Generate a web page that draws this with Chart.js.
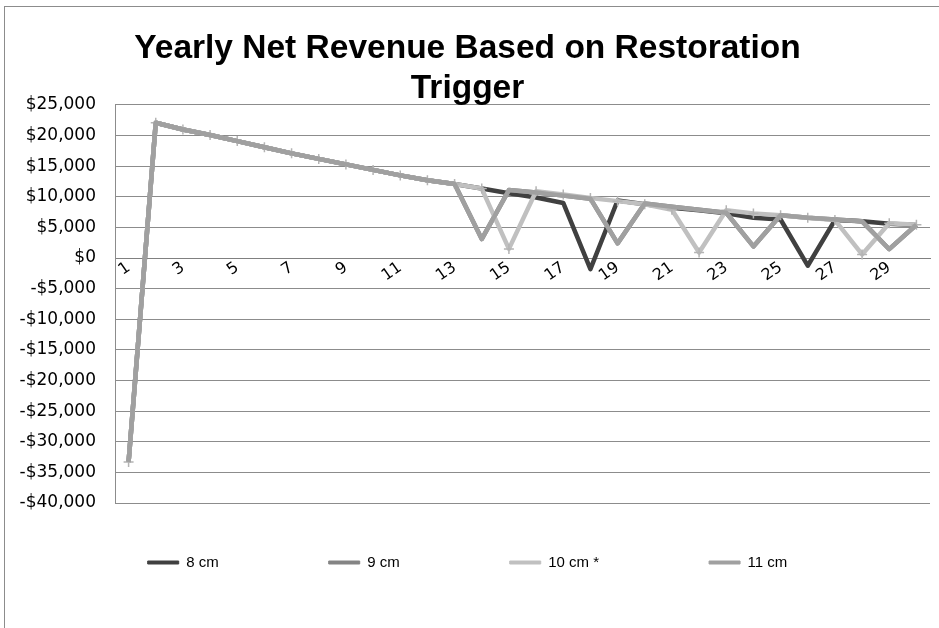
<!DOCTYPE html>
<html>
<head>
<meta charset="utf-8">
<script src="https://cdn.jsdelivr.net/npm/chart.js@4.4.0/dist/chart.umd.min.js"></script>
<style>
body{margin:0;background:#fff;overflow:hidden;}
#frame{position:absolute;left:4px;top:6px;width:1000px;height:700px;border-left:1px solid #8c8c8c;border-top:1px solid #8c8c8c;}
#myChart{position:absolute;left:5px;top:7px;}
</style>
</head>
<body>
<div id="frame"></div>
<canvas id="myChart" width="944" height="631"></canvas>
<script>
const years=[1,2,3,4,5,6,7,8,9,10,11,12,13,14,15,16,17,18,19,20,21,22,23,24,25,26,27,28,29,30];
const cm8 =[-33300,22100,21000,20100,19100,18100,17100,16200,15300,14400,13500,12700,12100,
            11350,10600,9900,9000,-1800,9400,8800,8200,7800,7300,6600,6300,-1250,6200,6000,5600,5400];
const cm9 =[-33300,22100,21000,20100,19100,18100,17100,16200,15300,14400,13500,12700,12100,
            3100,11100,10700,10200,9700,2400,8900,8400,7900,7400,1900,7000,6600,6300,6000,1450,5450];
const cm10=[-33300,22100,21000,20100,19100,18100,17100,16200,15300,14400,13500,12700,12100,
            11350,1500,10900,10400,9800,9300,8800,7900,900,7800,7300,7000,6600,6200,600,5700,5450];
const cm11=[-33300,22100,21000,20100,19100,18100,17100,16200,15300,14400,13500,12700,12100,
            3100,11100,10700,10200,9700,2400,8900,8400,7900,7400,1900,7000,6600,6300,6000,1450,5450];

function money(v)
{
  var s='$'+String(Math.abs(v)).replace(/\B(?=(\d{3})+(?!\d))/g,',');
  return v<0 ? '-'+s : s;
}

// legend sits lower in the layout than its padding allows, pull it up
const moveLegend={
  id:'moveLegend',
  afterLayout:function(chart){
    chart.legend.top-=58;
    chart.legend.bottom-=58;
  }
};

function line(label,data,color,order)
{
  return {label:label,data:data,borderColor:color,backgroundColor:color,borderWidth:4.5,
          borderJoinStyle:'round',pointRadius:0,tension:0,order:order};
}

var ds10=line('10 cm *',cm10,'#c0c0c0',2);
ds10.pointStyle='cross';
ds10.pointRadius=5;
ds10.pointBorderWidth=1.5;
ds10.pointBorderColor='#b4b4b4';

const ctx=document.getElementById('myChart').getContext('2d');
const myChart=new Chart(ctx,{
  type:'line',
  data:{
    labels:years,
    datasets:[
      line('8 cm',cm8,'#404040',4),
      line('9 cm',cm9,'#848484',3),
      ds10,
      line('11 cm',cm11,'#a0a0a0',1)
    ]
  },
  plugins:[moveLegend],
  options:{
    responsive:false,
    animation:false,
    layout:{padding:{left:0,right:19,top:0,bottom:0}},
    plugins:{
      tooltip:{enabled:false},
      title:{
        display:true,
        text:['Yearly Net Revenue Based on Restoration','Trigger'],
        color:'#000',
        font:{family:'Liberation Sans',size:33.5,weight:'bold',lineHeight:1.194},
        padding:{top:22,bottom:-4}
      },
      legend:{
        position:'bottom',
        labels:{
          color:'#000',
          font:{family:'Liberation Sans',size:15},
          boxWidth:31,
          boxHeight:3,
          padding:110,
          sort:function(a,b){return a.datasetIndex-b.datasetIndex;},
          generateLabels:function(chart){
            var items=Chart.defaults.plugins.legend.labels.generateLabels(chart);
            items.forEach(function(it){it.lineWidth=1;});
            return items;
          }
        }
      }
    },
    scales:{
      x:{
        position:{y:0},
        offset:true,
        grid:{display:false,drawTicks:false},
        border:{display:true,color:'#808080',width:1},
        ticks:{
          autoSkip:false,
          minRotation:35,
          maxRotation:35,
          padding:0,
          color:'#000',
          font:{family:'DejaVu Sans',size:16},
          callback:function(val,index){return index%2===0 ? years[index] : '';}
        }
      },
      y:{
        min:-40000,
        max:25000,
        afterFit:function(scale){scale.width=110;},
        grid:{color:'#8c8c8c',lineWidth:1,drawTicks:false},
        border:{display:true,color:'#8c8c8c'},
        ticks:{
          stepSize:5000,
          padding:19,
          color:'#000',
          font:{family:'DejaVu Sans',size:17},
          callback:function(v){return money(v);}
        }
      }
    }
  }
});
</script>
</body>
</html>
